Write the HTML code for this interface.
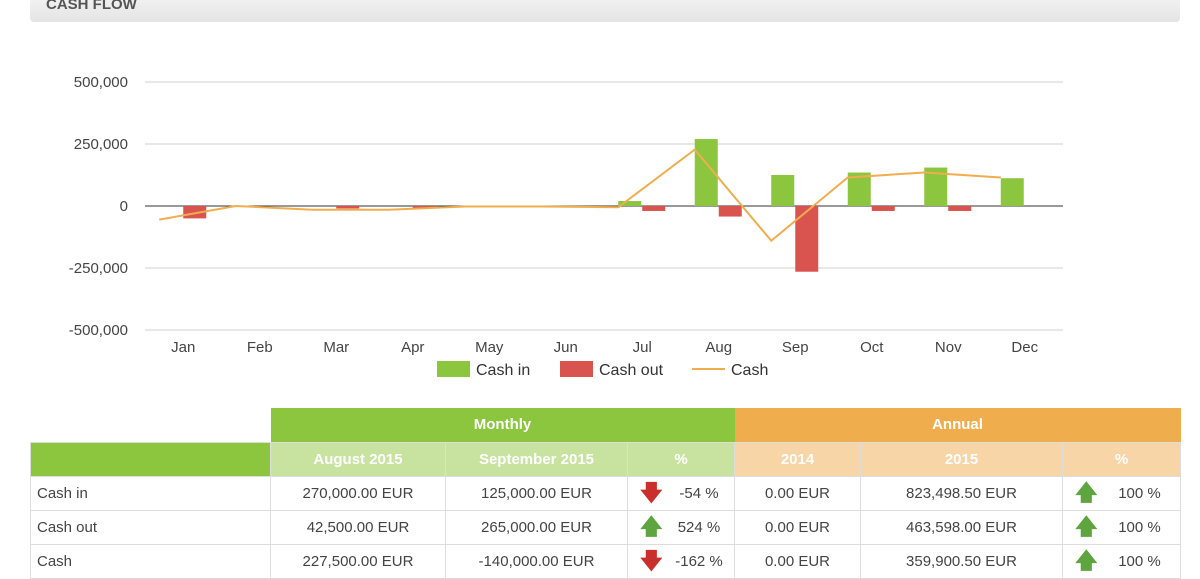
<!DOCTYPE html>
<html><head><meta charset="utf-8">
<style>
body{margin:0;width:1200px;height:565px;overflow:hidden;background:#fff;font-family:"Liberation Sans",sans-serif;position:relative}
#hdr{position:absolute;left:30px;top:-10px;width:1150px;height:32px;border-radius:4px;background:linear-gradient(#f6f6f6,#e4e4e4);}
#hdr span{position:absolute;left:16px;top:6px;font-weight:bold;font-size:15px;color:#555}
svg{position:absolute;left:0;top:0}
table{position:absolute;left:30px;top:408px;border-collapse:collapse;font-size:15px;color:#444;table-layout:fixed}
td{height:34px;border:1px solid #ddd;text-align:center;padding:0;box-sizing:border-box}
td.l{text-align:left;padding-left:6px}
.mh{background:#8cc63f;color:#fff;font-weight:bold;border:none;height:31px}
.ah{background:#f0ad4e;color:#fff;font-weight:bold;border:none;height:31px}
.ms{background:#c8e3a0;color:#fff;font-weight:bold}
.as{background:#f8d5a6;color:#fff;font-weight:bold}
.g{background:#8cc63f}
.pc{position:relative}
.arr{position:absolute;left:12px;top:5px;font-size:22px;font-weight:bold;line-height:22px}
.pc span.v{position:relative;left:18px}
</style></head><body>
<div id="hdr"><span>CASH FLOW</span></div>
<svg id="chart" width="1200" height="400"></svg>
<table>
<colgroup><col style="width:240px"><col style="width:175px"><col style="width:182px"><col style="width:107px"><col style="width:126px"><col style="width:202px"><col style="width:118px"></colgroup>
<tr><td style="border:none"></td><td class="mh" colspan="3">Monthly</td><td class="ah" colspan="3">Annual</td></tr>
<tr><td class="g"></td><td class="ms">August 2015</td><td class="ms">September 2015</td><td class="ms">%</td><td class="as">2014</td><td class="as">2015</td><td class="as">%</td></tr>
<tr><td class="l">Cash in</td><td>270,000.00 EUR</td><td>125,000.00 EUR</td><td class="pc"><span class="arr" style="color:#c9302c">&#129095;</span><span class="v">-54 %</span></td><td>0.00 EUR</td><td>823,498.50 EUR</td><td class="pc"><span class="arr" style="color:#5ea540">&#129093;</span><span class="v">100 %</span></td></tr>
<tr><td class="l">Cash out</td><td>42,500.00 EUR</td><td>265,000.00 EUR</td><td class="pc"><span class="arr" style="color:#5ea540">&#129093;</span><span class="v">524 %</span></td><td>0.00 EUR</td><td>463,598.00 EUR</td><td class="pc"><span class="arr" style="color:#5ea540">&#129093;</span><span class="v">100 %</span></td></tr>
<tr><td class="l">Cash</td><td>227,500.00 EUR</td><td>-140,000.00 EUR</td><td class="pc"><span class="arr" style="color:#c9302c">&#129095;</span><span class="v">-162 %</span></td><td>0.00 EUR</td><td>359,900.50 EUR</td><td class="pc"><span class="arr" style="color:#5ea540">&#129093;</span><span class="v">100 %</span></td></tr>
</table>
<script>
const categories=["Jan","Feb","Mar","Apr","May","Jun","Jul","Aug","Sep","Oct","Nov","Dec"];
const cashIn=[0,0,0,0,0,0,20000,270000,125000,135000,155000,112000];
const cashOut=[-50000,0,-10000,-8000,0,0,-20000,-42500,-265000,-20000,-20000,0];
const cash=[-55000,0,-15000,-15000,-2000,-2000,-5000,227500,-140000,115000,135000,115000];
const ticks=[500000,250000,0,-250000,-500000];
const tickLabels=["500,000","250,000","0","-250,000","-500,000"];
const NS="http://www.w3.org/2000/svg",svg=document.getElementById("chart");
const L=145,R=1063,step=(R-L)/categories.length;
const y=v=>206-v*124/500000;
const xc=i=>L+step*(i+0.5);
function mk(t,a){const e=document.createElementNS(NS,t);for(const k in a)e.setAttribute(k,a[k]);svg.appendChild(e);return e;}
ticks.forEach((t,i)=>{
 const g=mk("line",{x1:L,x2:R,y1:y(t),y2:y(t),stroke:t===0?"#333":"#e0e0e0","stroke-width":t===0?1:1.5});
 
 
 const tx=mk("text",{x:128,y:y(t)+5,"text-anchor":"end","font-size":15,fill:"#444"});tx.textContent=tickLabels[i];
 
 
});
categories.forEach((c,i)=>{
 const tx=mk("text",{x:xc(i),y:352,"text-anchor":"middle","font-size":15,fill:"#444"});tx.textContent=c;
 
 
 const a=cashIn[i],b=cashOut[i];
 const r1=mk("rect",{x:xc(i)-24,width:23,y:Math.min(y(a),y(0)),height:Math.abs(y(a)-y(0)),fill:"#8cc63f"});
 
 
 const r2=mk("rect",{x:xc(i),width:23,y:Math.min(y(b),y(0)),height:Math.abs(y(b)-y(0)),fill:"#d9534f"});
 
 
});
const pl=mk("polyline",{points:cash.map((v,i)=>(xc(i)-24)+","+y(v)).join(" "),fill:"none",stroke:"#f0ad4e","stroke-width":2});


const leg=[["Cash in","#8cc63f",437,"r"],["Cash out","#d9534f",560,"r"],["Cash","#f0ad4e",692,"l"]];
leg.forEach(([n,c,x,t])=>{
 const s=t==="r"?mk("rect",{x:x,y:361,width:33,height:16,fill:c}):mk("line",{x1:x,x2:x+33,y1:369,y2:369,stroke:c,"stroke-width":2});
 
 
 const tx=mk("text",{x:x+39,y:375,"font-size":16,fill:"#333"});tx.textContent=n;
 
 
});
</script>
</body></html>
